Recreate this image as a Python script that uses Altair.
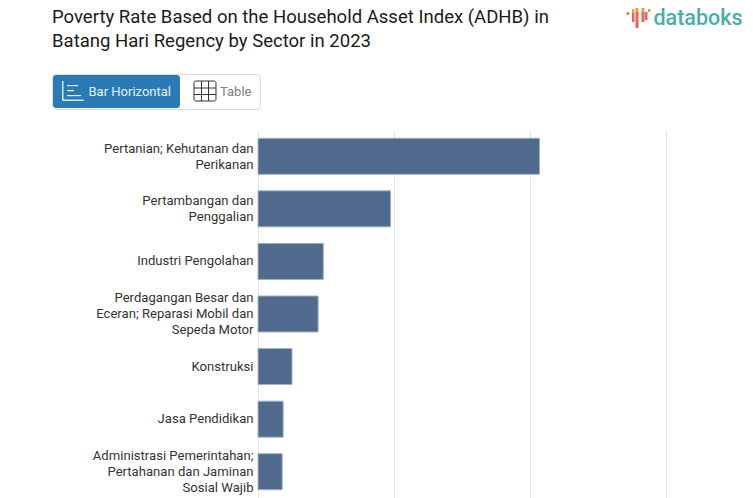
import altair as alt
import pandas as pd

categories = [
    "Pertanian; Kehutanan dan|Perikanan",
    "Pertambangan dan|Penggalian",
    "Industri Pengolahan",
    "Perdagangan Besar dan|Eceran; Reparasi Mobil dan|Sepeda Motor",
    "Konstruksi",
    "Jasa Pendidikan",
    "Administrasi Pemerintahan;|Pertahanan dan Jaminan|Sosial Wajib",
]
values = [20.7, 9.75, 4.8, 4.42, 2.5, 1.85, 1.78]
title_lines = [
    "Poverty Rate Based on the Household Asset Index (ADHB) in",
    "Batang Hari Regency by Sector in 2023",
]

OX, OY = 258, 130  # page position of the plot origin
FONT = "Roboto"


def box(x0, x1, y0, y1, color=None, stroke=None, sw=1, radius=0, opacity=1):
    kw = {"cornerRadius": radius}
    if color:
        kw["color"] = color
        kw["opacity"] = opacity
    else:
        kw["fillOpacity"] = 0
    if stroke:
        kw["stroke"] = stroke
        kw["strokeWidth"] = sw
    return alt.Chart(pd.DataFrame({"a": [0]})).mark_rect(**kw).encode(
        x=alt.value(x0 - OX), x2=alt.value(x1 - OX),
        y=alt.value(y0 - OY), y2=alt.value(y1 - OY),
    )


def label(s, x, y, size, color, weight=400, align="left"):
    return alt.Chart(pd.DataFrame({"a": [0]})).mark_text(
        text=s, font=FONT, fontSize=size, color=color, fontWeight=weight,
        align=align, baseline="alphabetic",
    ).encode(x=alt.value(x - OX), y=alt.value(y - OY))


df = pd.DataFrame({"sector": categories, "rate": values})

label_offset = {
    "condition": [
        {"test": "length(split(datum.value, '|')) == 2", "value": -7.5},
        {"test": "length(split(datum.value, '|')) == 3", "value": -16},
    ],
    "value": 0,
}

bars = alt.Chart(df).mark_bar(
    color="#4f6a8c", stroke="#9db0cc", strokeWidth=1, size=36
).encode(
    x=alt.X("rate:Q", scale=alt.Scale(domain=[0, 30], nice=False),
            axis=alt.Axis(values=[0, 10, 20, 30], labels=False, ticks=False, domain=False,
                          title=None, grid=True, gridColor="#e3e3e3", gridWidth=1)),
    y=alt.Y("sector:N", sort=categories,
            axis=alt.Axis(title=None, ticks=False, domain=False, labelPadding=5,
                          labelFont=FONT, labelFontSize=13.1, labelColor="#333333",
                          labelLimit=300, labelLineHeight=16, labelOffset=label_offset,
                          labelExpr="split(datum.label, '|')")),
)

layers = [bars]
# view switcher
layers += [
    box(52.5, 260.5, 74.5, 109.5, stroke="#dddddd", radius=4),
    box(53, 180, 75, 108, color="#2a7ab5", radius=3),
    # bar icon
    box(62, 63.5, 81, 100, color="#d5e6f3"),
    box(62, 84, 99.5, 101, color="#d5e6f3", radius=1),
    box(67, 78, 85, 86.2, color="#eaf3f9"),
    box(67, 74, 90, 91.2, color="#eaf3f9"),
    box(67, 81, 95, 96.2, color="#eaf3f9"),
    label("Bar Horizontal", 88.5, 96, 13, "#e6f0f7"),
    # table icon
    box(194, 216, 81, 101, stroke="#333333", sw=1, radius=2),
    box(201, 202, 81, 101, color="#333333"),
    box(208, 209, 81, 101, color="#333333"),
    box(194, 216, 87.5, 88.5, color="#333333"),
    box(194, 216, 94, 95, color="#333333"),
    label("Table", 220, 96, 13, "#808080"),
    # logo
    box(626.5, 629, 12, 15, color="#ec7a52"),
    box(632, 634.5, 9, 13, color="#ee9c4c"),
    box(632, 634.5, 13, 22, color="#e8645a"),
    box(635.5, 638.5, 4, 12, color="#ee9c4c"),
    box(635.5, 638.5, 12, 28, color="#e8645a"),
    box(641.5, 644.5, 5, 12, color="#ee9c4c"),
    box(641.5, 644.5, 12, 22, color="#e8645a"),
    box(645, 647.5, 12, 20, color="#e8645a"),
    box(648, 650.5, 9, 12, color="#ee9c4c"),
    label("databoks", 653.5, 25, 21.5, "#4aaeaa", weight=500),
]

chart = alt.layer(*layers).properties(
    width=408, height=368,
    padding={"left": 250, "top": 122, "right": 79, "bottom": 0},
    autosize=alt.AutoSizeParams(type="none"),
    title=alt.TitleParams(
        text=title_lines, anchor="start", frame="group", font=FONT, fontSize=18.55,
        fontWeight=400, color="#1a1a1a", lineHeight=24.5, dx=-206, dy=51,
    ),
).configure_view(stroke=None)

chart.save("out.html", embed_options={"renderer": "svg", "actions": False})
